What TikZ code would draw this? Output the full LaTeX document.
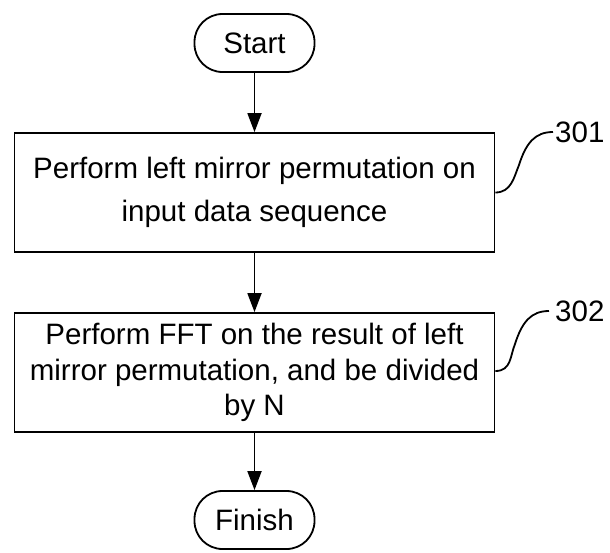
\documentclass[tikz,border=0pt]{standalone}
\usepackage{fontspec}
\setmainfont{Liberation Sans}
\usetikzlibrary{arrows.meta}
\begin{document}
\begin{tikzpicture}[x=1pt,y=-1pt,
  every node/.style={font=\fontsize{29.5}{35.5}\selectfont, inner sep=0pt},
  terminal/.style={draw, line width=1.8pt, rounded corners=28pt, minimum width=120pt, minimum height=58pt},
  procbox/.style={draw, line width=1.8pt, minimum width=480pt, minimum height=119pt, align=center},
  flow/.style={line width=1.8pt, -{Triangle[length=19pt,width=14pt]}},
  leader/.style={line width=1.8pt}]
\useasboundingbox (0,0) rectangle (610,552);
\node[terminal] (start) at (254.5,43) {Start};
\node[procbox] (b1) at (254.5,192.5) {Perform left mirror permutation on\\[8pt]input data sequence};
\node[procbox] (b2) at (254.5,372.5) {Perform FFT on the result of left\\mirror permutation, and be divided\\by N};
\node[terminal] (finish) at (254.5,520) {Finish};
\draw[flow] (start) -- (b1);
\draw[flow] (b1) -- (b2);
\draw[flow] (b2) -- (finish);
\coordinate (e1) at (553,132);
\coordinate (e2) at (549,311);
\node[anchor=west] (l1) at (555,132) {301};
\node[anchor=west] (l2) at (555,311) {302};
\draw[leader] (b1.east) .. controls +(16,0) and +(-5,12) .. (519,165) .. controls +(7,-22) and +(-18,0) .. (e1);
\draw[leader] (b2.east |- 0,371) .. controls +(16,0) and +(-5,12) .. (515,344) .. controls +(7,-22) and +(-18,0) .. (e2);
\end{tikzpicture}
\end{document}
